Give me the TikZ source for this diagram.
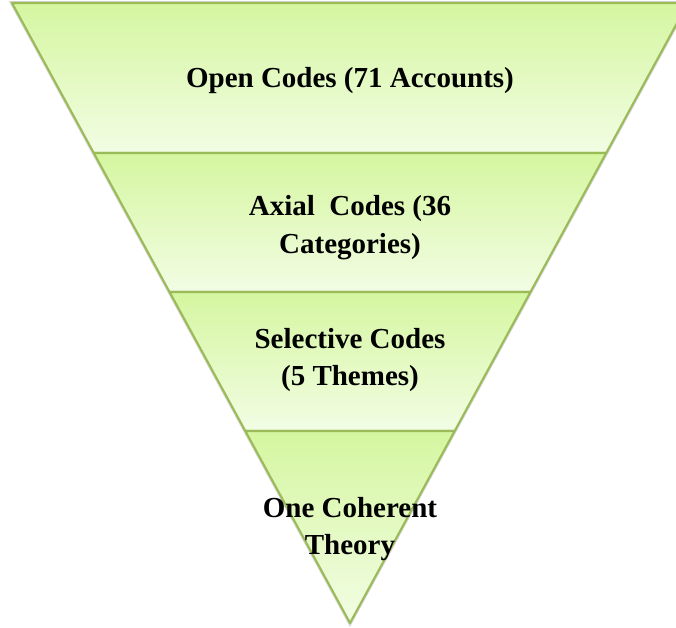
\documentclass[tikz,border=0pt]{standalone}
\usepackage{fontspec}
\setmainfont{Liberation Serif}
\usepackage{xcolor}
\usetikzlibrary{calc}
\definecolor{funnelline}{RGB}{155,187,89}
\definecolor{bandtop}{RGB}{213,246,160}
\definecolor{bandbottom}{RGB}{242,253,228}

\begin{document}
\begin{tikzpicture}[x=0.02cm, y=-0.02cm] %1 Einheit = 1 Pixel der Vorlage
\tikzstyle{every node} = [font=\bfseries\fontsize{16.5}{21.5}\selectfont, align=center, text=black]
\tikzstyle{band} = [draw=funnelline, line width=1.2pt, line join=round, top color=bandtop, bottom color=bandbottom]
\tikzstyle{shade line} = [draw=black!45, line width=2.2pt, opacity=.35]
\clip (0,0) rectangle (676,627);
\coordinate (tl) at (12,3);
\coordinate (tr) at (688,3);
\coordinate (apex) at (350,623);
% Schatten
\draw [shade line, xshift=1.2] (tl) -- (tr) -- (apex) -- cycle;
% Streifen
\foreach \a/\b in {0/0.2419, 0.2419/0.4661, 0.4661/0.6903}
\shade [band] ($(tl)!\a!(apex)$) -- ($(tr)!\a!(apex)$) -- ($(tr)!\b!(apex)$) -- ($(tl)!\b!(apex)$) -- cycle;
\shade [band] ($(tl)!0.6903!(apex)$) -- ($(tr)!0.6903!(apex)$) -- (apex) -- cycle;
% Beschriftung
\node (open) at (350,81) {Open Codes (71 Accounts)};
\node (axial) at (350,228) {Axial\ \ Codes (36\\Categories)};
\node (selective) at (350,360) {Selective Codes\\(5 Themes)};
\node (theory) at (350,529) {One Coherent\\Theory};
\end{tikzpicture}
\end{document}
